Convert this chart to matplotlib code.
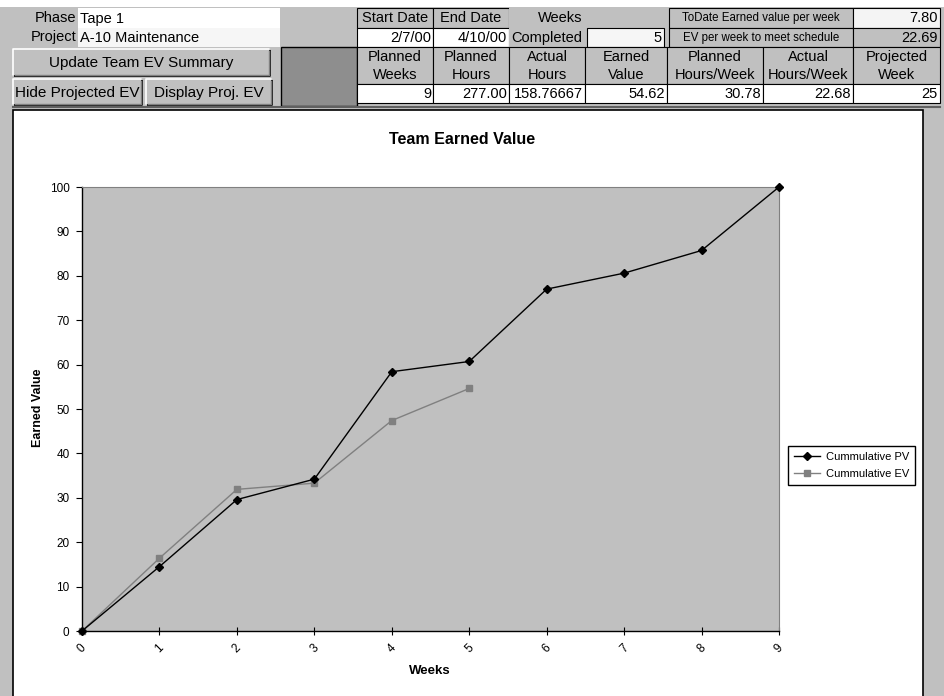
import matplotlib
matplotlib.use('Agg')
import matplotlib.pyplot as plt
from matplotlib.patches import Rectangle

plt.rcParams['font.family'] = ['Liberation Sans', 'DejaVu Sans']

# --- chart data ---
weeks = list(range(10))
cum_pv = [0, 14.5, 29.6, 34.2, 58.4, 60.7, 77.0, 80.6, 85.7, 100.0]
ev_weeks = list(range(6))
cum_ev = [0, 16.4, 31.9, 33.3, 47.4, 54.62]
y_ticks = list(range(0, 101, 10))

# --- sheet header values ---
phase = 'Tape 1'
project = 'A-10 Maintenance'
start_date, end_date, weeks_completed = '2/7/00', '4/10/00', '5'
todate_ev_week, ev_week_needed = '7.80', '22.69'
summary_heads = ['Planned\nWeeks', 'Planned\nHours', 'Actual\nHours', 'Earned\nValue',
                 'Planned\nHours/Week', 'Actual\nHours/Week', 'Projected\nWeek']
summary_vals = ['9', '277.00', '158.76667', '54.62', '30.78', '22.68', '25']

GRAY = '#c0c0c0'
FS = 10.5

fig = plt.figure(figsize=(9.44, 6.96), dpi=100, facecolor=GRAY)
bg = fig.add_axes([0, 0, 1, 1])
bg.set_xlim(0, 944)
bg.set_ylim(696, 0)
bg.axis('off')


def cell(x0, y0, x1, y1, text='', fc=GRAY, ha='center', fs=FS, ec='black', lw=0.8):
    bg.add_patch(Rectangle((x0, y0), x1 - x0, y1 - y0, fc=fc, ec=ec, lw=lw))
    if ha == 'right':
        tx = x1 - 2
    elif ha == 'left':
        tx = x0 + 2
    else:
        tx = (x0 + x1) / 2
    bg.text(tx, (y0 + y1) / 2 + 0.5, text, ha=ha, va='center', fontsize=fs,
            linespacing=1.3)


def button(x0, y0, x1, y1, text):
    bg.add_patch(Rectangle((x0, y0), x1 - x0, y1 - y0, fc=GRAY, ec='none'))
    bg.plot([x0, x1, x1], [y1, y1, y0], color='black', lw=1.2)
    bg.plot([x0, x0, x1], [y1, y0, y0], color='white', lw=1.2)
    bg.plot([x0 + 1.5, x1 - 1.5, x1 - 1.5], [y1 - 1.5, y1 - 1.5, y0 + 1.5], color='#808080', lw=1)
    bg.text((x0 + x1) / 2, (y0 + y1) / 2 + 0.5, text, ha='center', va='center', fontsize=11)


# thin white strip at the very top of the sheet
bg.add_patch(Rectangle((0, 0), 944, 7, fc='white', ec='none'))

# left block
bg.text(76, 18, 'Phase', ha='right', va='center', fontsize=FS)
bg.text(76, 37.5, 'Project', ha='right', va='center', fontsize=FS)
cell(78, 8, 280, 28, phase, fc='white', ha='left', ec='none')
cell(78, 28, 280, 47, project, fc='#f6f6f6', ha='left', ec='none')
bg.add_patch(Rectangle((281, 47), 76, 59, fc='#8e8e8e', ec='black', lw=1))
button(13, 49, 270, 76, 'Update Team EV Summary')
button(13, 79, 142, 105, 'Hide Projected EV')
button(146, 79, 272, 105, 'Display Proj. EV')

# right block
cols = [357, 433, 509, 585, 667, 763, 853, 940]
cell(357, 8, 433, 28, 'Start Date')
cell(433, 8, 509, 28, 'End Date')
cell(509, 8, 667, 28, '', ec='none')
bg.text(560, 18.5, 'Weeks', ha='center', va='center', fontsize=FS)
cell(669, 8, 853, 28, 'ToDate Earned value per week', fs=8.3)
cell(853, 8, 940, 28, todate_ev_week, fc='#f4f4f4', ha='right')
cell(357, 28, 433, 47, start_date, fc='white', ha='right')
cell(433, 28, 509, 47, end_date, fc='white', ha='right')
cell(509, 28, 587, 47, 'Completed', ha='left', ec='none')
cell(587, 28, 664, 47, weeks_completed, fc='#f6f6f6', ha='right')
cell(669, 28, 853, 47, 'EV per week to meet schedule', fs=8.3)
cell(853, 28, 940, 47, ev_week_needed, ha='right')
for i, (h, v) in enumerate(zip(summary_heads, summary_vals)):
    cell(cols[i], 47, cols[i + 1], 84, h)
    cell(cols[i], 84, cols[i + 1], 103, v, fc='white', ha='right')
bg.plot([13, 940], [107, 107], color='#606060', lw=1.5)

# chart area
bg.add_patch(Rectangle((13, 110), 910, 600, fc='white', ec='black', lw=1.2))
bg.text(462, 139, 'Team Earned Value', ha='center', va='center', fontsize=11.5,
        fontweight='bold')
bg.text(38, 408, 'Earned Value', ha='center', va='center', rotation=90, fontsize=9,
        fontweight='bold')
bg.text(430, 671, 'Weeks', ha='center', va='center', fontsize=9.5, fontweight='bold')

ax = fig.add_axes([82 / 944, 1 - 631 / 696, (779 - 82) / 944, (631 - 187) / 696])
ax.set_facecolor(GRAY)
ax.plot(weeks, cum_pv, '-D', color='black', lw=1, markersize=4.5, label='Cummulative PV',
        clip_on=False, zorder=4)
ax.plot(ev_weeks, cum_ev, '-s', color='#808080', lw=1, markersize=4.5, label='Cummulative EV',
        clip_on=False, zorder=3)
ax.set_xlim(0, 9)
ax.set_ylim(0, 100)
ax.set_yticks(y_ticks)
ax.set_xticks(weeks)
ax.set_xticklabels([str(w) for w in weeks], rotation=45, ha='center', fontsize=8.5)
ax.tick_params(axis='x', direction='inout', length=6, width=0.8, pad=5)
ax.tick_params(axis='y', direction='out', length=4, width=0.8, pad=5, labelsize=8.5)
for s in ['top', 'right']:
    ax.spines[s].set_color('#808080')
    ax.spines[s].set_linewidth(0.8)
for s in ['left', 'bottom']:
    ax.spines[s].set_color('black')
    ax.spines[s].set_linewidth(1)

fig.legend(loc='upper left', bbox_to_anchor=(788 / 944, 1 - 446 / 696), fontsize=8,
           frameon=True, fancybox=False, edgecolor='black', framealpha=1,
           handlelength=2.4, handletextpad=0.5, borderaxespad=0, borderpad=0.5,
           labelspacing=0.7)

plt.savefig('out.png', dpi=100, facecolor=GRAY)
plt.close()
